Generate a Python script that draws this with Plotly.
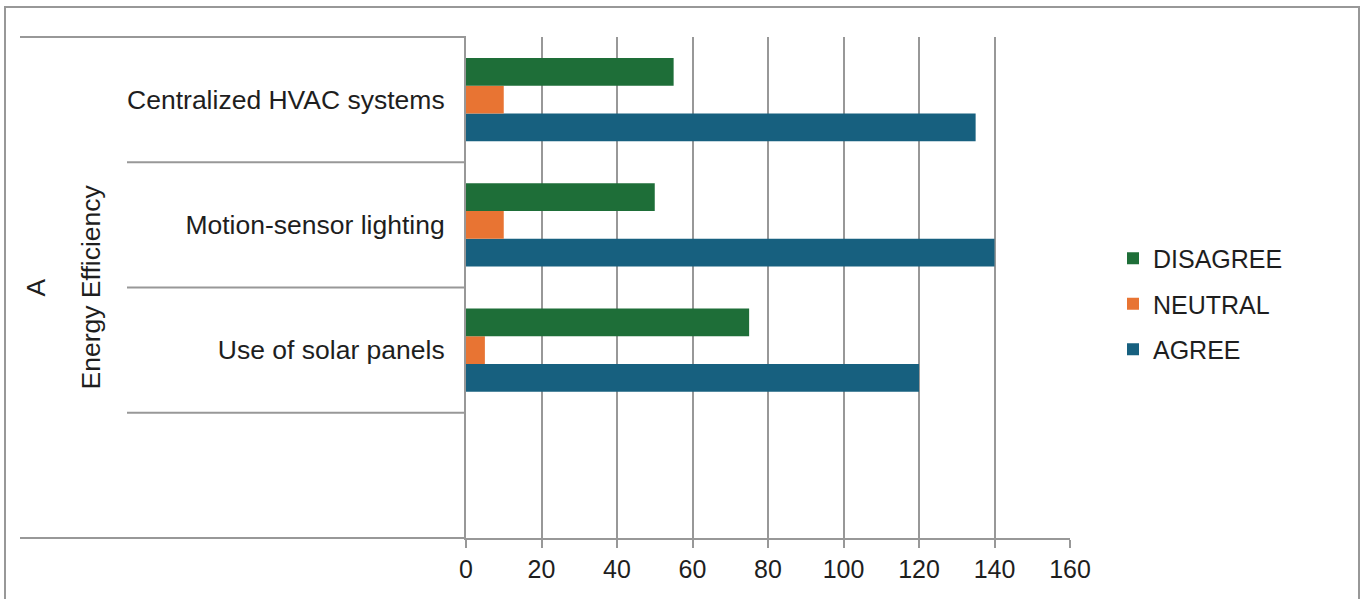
import plotly.graph_objects as go

categories = [" ", "Use of solar panels", "Motion-sensor lighting", "Centralized HVAC systems"]
agree = [None, 120, 140, 135]
neutral = [None, 5, 10, 10]
disagree = [None, 75, 50, 55]
group_outer = "A"
group_inner = "Energy Efficiency"
x_ticks = [0, 20, 40, 60, 80, 100, 120, 140, 160]

GREEN = "#1e6e38"
ORANGE = "#e87433"
BLUE = "#17607f"
GRID = "#989898"
TXT = "#1e1e1e"
FONT = "Liberation Sans, Arial, sans-serif"

W, H = 1367, 599
L, R, T, B = 466, 1367 - 1070, 37, 599 - 538
PW = W - L - R
PH = H - T - B

def px_x(p):
    return (p - L) / PW

def px_y(p):
    return 1 - (p - T) / PH

fig = go.Figure()
fig.add_trace(go.Bar(y=categories, x=agree, name="AGREE", orientation="h",
                     marker=dict(color=BLUE, line=dict(width=0)), legendgroup="a", legendrank=3))
fig.add_trace(go.Bar(y=categories, x=neutral, name="NEUTRAL", orientation="h",
                     marker=dict(color=ORANGE, line=dict(width=0)), legendgroup="n", legendrank=2))
fig.add_trace(go.Bar(y=categories, x=disagree, name="DISAGREE", orientation="h",
                     marker=dict(color=GREEN, line=dict(width=0)), legendgroup="d", legendrank=1))

shapes = []
# category separators (between categories)
for k in range(len(categories) - 1):
    shapes.append(dict(type="line", xref="paper", yref="y", x0=px_x(127), x1=0,
                       y0=k + 0.5, y1=k + 0.5, line=dict(color=GRID, width=2)))
# top and bottom group lines
for yp in (0, 1):
    shapes.append(dict(type="line", xref="paper", yref="paper", x0=px_x(20), x1=0,
                       y0=yp, y1=yp, line=dict(color=GRID, width=2)))
# outer frame
shapes.append(dict(type="rect", xref="paper", yref="paper",
                   x0=px_x(5), x1=px_x(1359), y0=px_y(630), y1=px_y(7),
                   line=dict(color=GRID, width=2), fillcolor="rgba(0,0,0,0)", layer="below"))

annotations = [
    dict(text=group_outer, xref="paper", yref="paper", x=px_x(35), y=0.5,
         xanchor="center", yanchor="middle",
         textangle=-90, showarrow=False, font=dict(size=26.5, color=TXT, family=FONT)),
    dict(text=group_inner, xref="paper", yref="paper", x=px_x(90), y=0.5,
         xanchor="center", yanchor="middle",
         textangle=-90, showarrow=False, font=dict(size=26.5, color=TXT, family=FONT)),
]

fig.update_layout(
    width=W, height=H, autosize=False,
    margin=dict(l=L, r=R, t=T, b=B, pad=0),
    paper_bgcolor="white", plot_bgcolor="white",
    barmode="group", bargap=0.336, bargroupgap=0,
    font=dict(family=FONT, size=25, color=TXT),
    shapes=shapes, annotations=annotations,
    legend=dict(x=px_x(1113), xanchor="left", y=px_y(304), yanchor="middle",
                traceorder="grouped", tracegroupgap=10,
                font=dict(size=25, color=TXT, family=FONT), bgcolor="rgba(0,0,0,0)"),
    xaxis=dict(range=[0, 160], tickvals=x_ticks, showgrid=True, gridcolor=GRID, gridwidth=2,
               zeroline=False, showline=True, linecolor=GRID, linewidth=2,
               ticks="outside", ticklen=8, tickcolor=GRID, tickwidth=2,
               tickfont=dict(size=25, color=TXT, family=FONT), fixedrange=True),
    yaxis=dict(type="category", categoryorder="array", categoryarray=categories,
               range=[-0.5, 3.5], showgrid=False, zeroline=False,
               showline=True, linecolor=GRID, linewidth=2, ticks="",
               ticklabelstandoff=14,
               tickfont=dict(size=26.5, color=TXT, family=FONT), fixedrange=True),
)

fig.write_html("out.html")
